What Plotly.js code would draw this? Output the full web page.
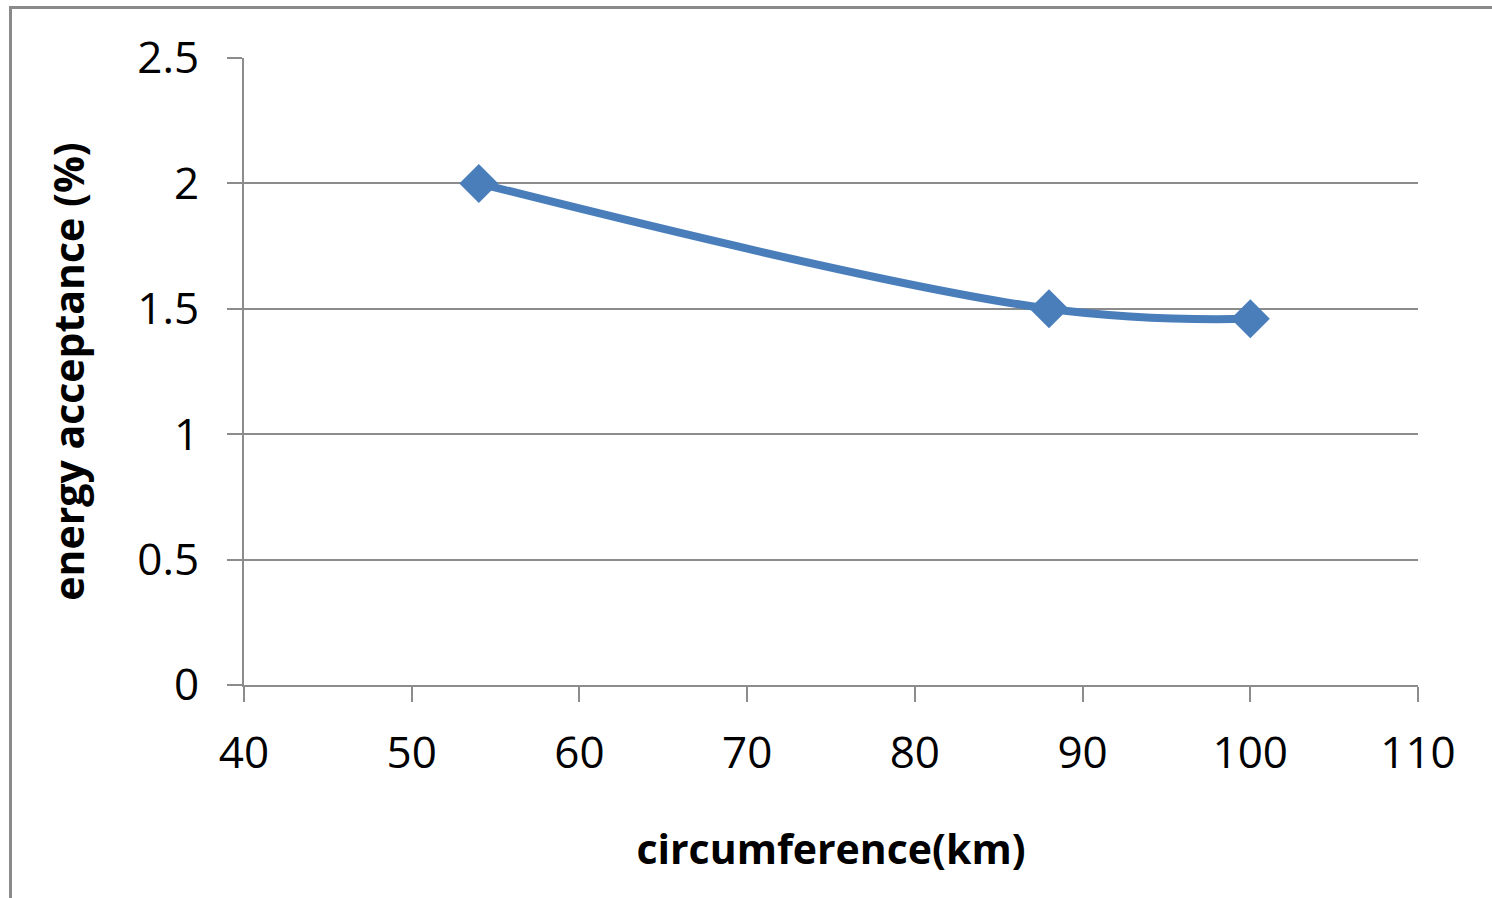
<!DOCTYPE html>
<html>
<head>
<meta charset="utf-8">
<script src="https://cdn.plot.ly/plotly-3.0.1.min.js"></script>
<style>
  html, body { margin: 0; padding: 0; background: #ffffff; }
  #wrap { position: relative; width: 1492px; height: 898px; overflow: hidden; }
  #frame { position: absolute; left: 9px; top: 6px; width: 1500px; height: 900px;
           border-left: 3px solid #8a8a8a; border-top: 3px solid #8a8a8a; pointer-events: none; }
  #chart { position: absolute; left: 0; top: 0; width: 1492px; height: 898px; }
</style>
</head>
<body>
<div id="wrap">
  <div id="chart"></div>
  <div id="frame"></div>
</div>
<script>
// Ring circumference (km) against the energy acceptance it allows (%)
const circumferenceKm = [54, 88, 100];
const energyAcceptance = [2.0, 1.5, 1.46];

const xTicks = [40, 50, 60, 70, 80, 90, 100, 110];
const yTicks = [0, 0.5, 1, 1.5, 2, 2.5];

const seriesColor = '#4a7ebb';
const gridColor = '#8c8c8c';
const tickFont = { family: 'Open Sans, sans-serif', size: 44, color: '#000000' };
const titleFont = { family: 'Open Sans, sans-serif', size: 41, color: '#000000', weight: 'bold' };

const trace = {
  x: circumferenceKm,
  y: energyAcceptance,
  type: 'scatter',
  mode: 'lines+markers',
  line: { color: seriesColor, width: 8, shape: 'spline', smoothing: 1.1 },
  marker: { symbol: 'diamond', size: 30, color: seriesColor, line: { width: 0 } },
  hoverinfo: 'x+y'
};

const layout = {
  width: 1492,
  height: 898,
  margin: { l: 244, r: 74, t: 58, b: 213, pad: 0 },
  paper_bgcolor: '#ffffff',
  plot_bgcolor: '#ffffff',
  showlegend: false,
  xaxis: {
    range: [40, 110],
    tickvals: xTicks,
    ticktext: xTicks.map(String),
    showgrid: false,
    zeroline: false,
    showline: true,
    linecolor: gridColor,
    linewidth: 2,
    ticks: 'outside',
    ticklen: 15,
    tickwidth: 2,
    tickcolor: gridColor,
    ticklabelstandoff: 13,
    tickfont: tickFont,
    title: { text: 'circumference(km)', font: titleFont, standoff: 56 }
  },
  yaxis: {
    range: [0, 2.5],
    tickvals: yTicks,
    ticktext: yTicks.map(String),
    showgrid: true,
    gridcolor: gridColor,
    gridwidth: 2,
    zeroline: false,
    showline: true,
    linecolor: gridColor,
    linewidth: 2,
    ticks: 'outside',
    ticklen: 15,
    tickwidth: 2,
    tickcolor: gridColor,
    ticklabelstandoff: 19,
    tickfont: tickFont,
    title: { text: 'energy acceptance (%)', font: titleFont, standoff: 40 }
  }
};

Plotly.newPlot('chart', [trace], layout, { displayModeBar: false, staticPlot: true });
</script>
</body>
</html>
